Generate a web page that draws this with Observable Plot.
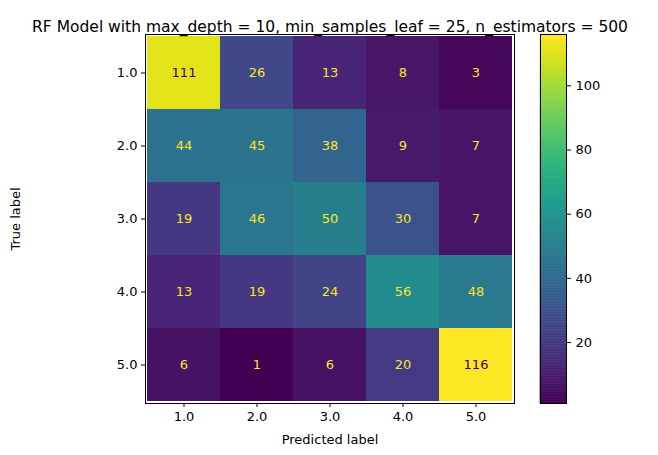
<!DOCTYPE html>
<html><head>
<script src="https://cdn.jsdelivr.net/npm/d3@7"></script>
<script src="https://cdn.jsdelivr.net/npm/@observablehq/plot@0.6"></script>
<style>body{margin:0;background:#fff;font-family:"DejaVu Sans",sans-serif}#c{position:relative;width:658px;height:455px}#c svg{position:absolute;left:0;top:0;overflow:visible}</style>
</head><body><div id="c"></div>
<script>
const labels = ["1.0","2.0","3.0","4.0","5.0"];
const matrix = [
 [111,26,13,8,3],
 [44,45,38,9,7],
 [19,46,50,30,7],
 [13,19,24,56,48],
 [6,1,6,20,116]
];
const colorTicks = [20,40,60,80,100];
const vmin = 1, vmax = 116;
const data = [];
matrix.forEach((row,i)=>row.forEach((v,j)=>data.push({t:labels[i],p:labels[j],v})));
const font = "DejaVu Sans, sans-serif";
const colorOpt = {type:"linear",interpolate:d3.interpolateViridis,domain:[vmin,vmax]};
const main = Plot.plot({
  width:658,height:455,marginLeft:145,marginRight:144,marginTop:34,marginBottom:52,
  style:{fontFamily:font,fontSize:"12px",background:"transparent"},
  x:{domain:labels,padding:0,label:null,tickSize:4},
  y:{domain:labels,padding:0,label:null,tickSize:4},
  color:colorOpt,
  marks:[
    Plot.cell(data,{x:"p",y:"t",fill:"v",fillOpacity:1}),
    Plot.text(data,{x:"p",y:"t",text:d=>String(d.v),fill:d=>d.v>(vmin+vmax)/2?"#440154":"#fde725",fontSize:13}),
    Plot.frame({stroke:"black"}),
    Plot.axisX({tickSize:4,fontSize:13,tickPadding:4}),
    Plot.axisY({tickSize:4,fontSize:13,tickPadding:4}),
    Plot.text(["Predicted label"],{frameAnchor:"bottom",dy:31,fontSize:13,fill:"black",lineAnchor:"top"}),
    Plot.text(["True label"],{frameAnchor:"left",dx:-130,rotate:-90,textAnchor:"middle",fontSize:13,fill:"black"}),
    Plot.text(["RF Model with max_depth = 10, min_samples_leaf = 25, n_estimators = 500"],{frameAnchor:"top",dy:-14,fontSize:15.5,fill:"black"})
  ]
});
const steps = d3.range(vmin, vmax, 0.5);
const cbar = Plot.plot({
  width:658,height:455,marginLeft:540,marginRight:92,marginTop:34,marginBottom:52,
  style:{fontFamily:font,fontSize:"13px",background:"transparent"},
  x:{axis:null,domain:[0,1]},
  y:{domain:[vmin,vmax],ticks:colorTicks,label:null},
  color:colorOpt,
  marks:[
    Plot.rect(steps,{x1:0,x2:1,y1:d=>d,y2:d=>Math.min(d+0.5,vmax),fill:d=>d+0.25,stroke:d=>d+0.25,strokeWidth:0.6}),
    Plot.frame({stroke:"black"}),
    Plot.axisY(colorTicks,{anchor:"right",tickSize:4,fontSize:13,label:null})
  ]
});
document.getElementById("c").append(main, cbar);
</script></body></html>
